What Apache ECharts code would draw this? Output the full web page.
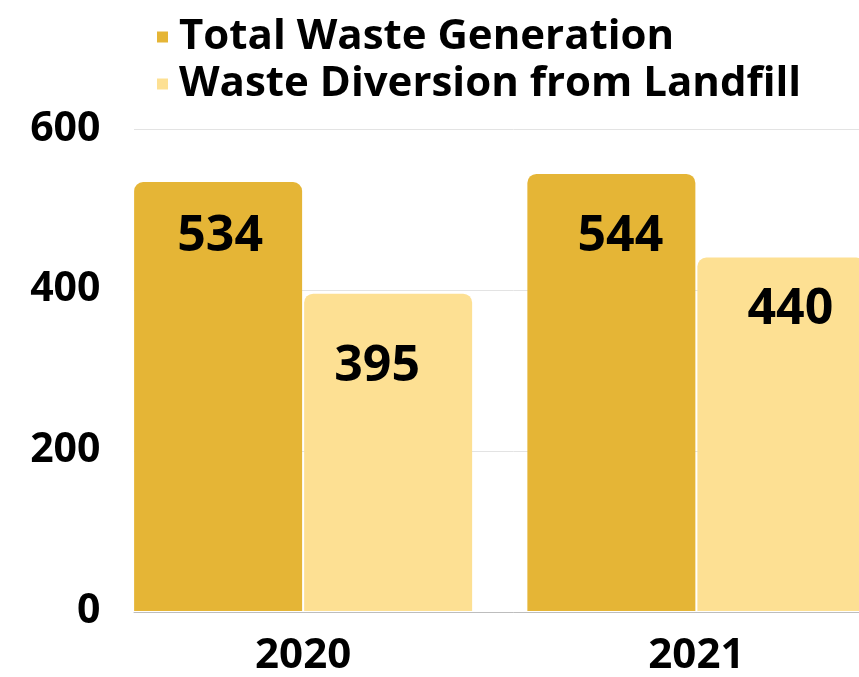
<!DOCTYPE html>
<html>
<head>
<meta charset="utf-8">
<script src="https://cdn.jsdelivr.net/npm/echarts@6/dist/echarts.min.js"></script>
<style>
  html, body { margin: 0; padding: 0; background: #fff; overflow: hidden; }
  /* the chart runs past the right edge of the page, as in the reference */
  #chart { width: 893px; height: 677px; }
</style>
</head>
<body>
<div id="chart"></div>
<script>
const years = ['2020', '2021']
const totalWaste = [534, 544]
const wasteDiversion = [395, 440]
const yTicks = [0, 200, 400, 600]

const font = '"Open Sans", "Noto Sans", sans-serif'
const dark = '#E5B536'
const light = '#FDE093'

// label distance from bar top and sideways shift, per bar
const labelDist = [[30, 38], [48, 27]]
const labelShift = [[2, 9], [-11, 9]]

const chart = echarts.init(document.getElementById('chart'))

function labelItems (values, s) {
  return values.map((v, i) => ({
    value: v,
    label: { distance: labelDist[s][i], offset: [labelShift[s][i], 0] }
  }))
}

const barLabel = {
  show: true,
  position: 'insideTop',
  fontFamily: font,
  fontSize: 50,
  fontWeight: 'bold',
  color: '#000'
}

chart.setOption({
  animation: false,
  textStyle: { fontFamily: font },
  legend: {
    orient: 'vertical',
    left: 152,
    top: 11,
    icon: 'rect',
    itemWidth: 11,
    itemHeight: 11,
    itemGap: 5,
    textStyle: { fontFamily: font, fontSize: 42, fontWeight: 'bold', color: '#000', padding: [0, 0, 0, 6] },
    data: ['Total Waste Generation', 'Waste Diversion from Landfill']
  },
  grid: [
    // bars
    { left: 106.5, top: 129, bottom: 65, right: 0 },
    // gridlines / axis line, starting at the plot edge
    { left: 134, top: 129, bottom: 65, right: 0 }
  ],
  xAxis: [{
    type: 'category',
    gridIndex: 0,
    data: years,
    axisLine: { show: false },
    axisTick: { show: false },
    axisLabel: { fontFamily: font, fontSize: 42, fontWeight: 'bold', color: '#000', margin: 24 }
  }, {
    type: 'value',
    gridIndex: 1,
    min: 0,
    max: 1,
    axisLine: { show: true, onZero: false, lineStyle: { color: '#bdbdbd', width: 1 } },
    axisTick: { show: false },
    axisLabel: { show: false },
    splitLine: { show: false }
  }],
  yAxis: [{
    type: 'value',
    gridIndex: 0,
    min: yTicks[0],
    max: yTicks[yTicks.length - 1],
    interval: yTicks[1] - yTicks[0],
    axisLine: { show: false },
    axisTick: { show: false },
    splitLine: { show: false },
    axisLabel: { fontFamily: font, fontSize: 41, fontWeight: 'bold', color: '#000', margin: 6 }
  }, {
    type: 'value',
    gridIndex: 1,
    min: yTicks[0],
    max: yTicks[yTicks.length - 1],
    interval: yTicks[1] - yTicks[0],
    axisLine: { show: false },
    axisTick: { show: false },
    axisLabel: { show: false },
    splitLine: { lineStyle: { color: '#e3e3e3', width: 1 } }
  }],
  series: [{
    name: 'Total Waste Generation',
    type: 'bar',
    xAxisIndex: 0,
    yAxisIndex: 0,
    data: labelItems(totalWaste, 0),
    barWidth: 168,
    barGap: '1.2%',
    itemStyle: { color: dark, borderRadius: [9, 9, 0, 0] },
    label: barLabel
  }, {
    name: 'Waste Diversion from Landfill',
    type: 'bar',
    xAxisIndex: 0,
    yAxisIndex: 0,
    data: labelItems(wasteDiversion, 1),
    barWidth: 168,
    itemStyle: { color: light, borderRadius: [9, 9, 0, 0] },
    label: barLabel
  }]
})
</script>
</body>
</html>
